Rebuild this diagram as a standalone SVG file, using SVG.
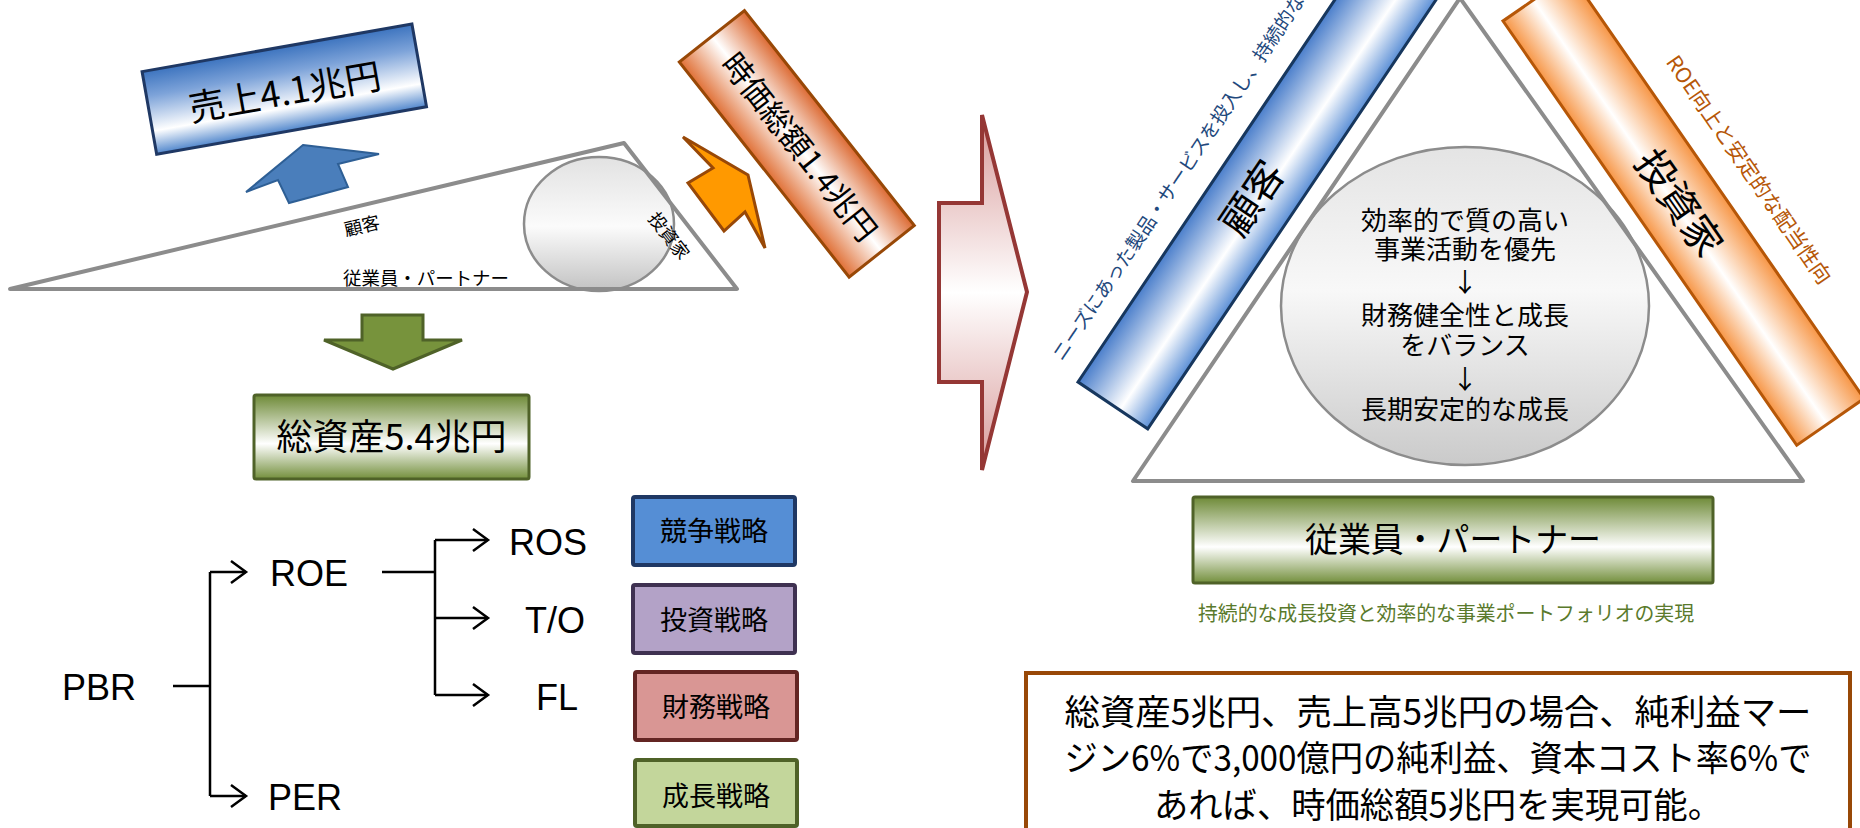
<svg xmlns="http://www.w3.org/2000/svg" width="1860" height="828" viewBox="0 0 1860 828">
<style>
.jp{font-family:"Noto Sans CJK JP","Noto Sans",sans-serif;fill:#000}
.en{font-family:"Liberation Sans",Arial,sans-serif;font-size:36px;fill:#000}
.mid{text-anchor:middle}
.gray{fill:none;stroke:#8c8c8c;stroke-width:4;stroke-linejoin:round}
.tree{fill:none;stroke:#000;stroke-width:2.5}
.arr{marker-end:url(#chev)}
.strat{stroke-width:4}
</style>
<defs>
<linearGradient id="gBlue" x1="0" y1="0" x2="0" y2="1">
<stop offset="0" stop-color="#3d74bf"/><stop offset="0.3" stop-color="#7da3d9"/><stop offset="0.72" stop-color="#ffffff"/><stop offset="1" stop-color="#5086cc"/>
</linearGradient>
<linearGradient id="gOrangeBox" x1="0" y1="0" x2="0" y2="1">
<stop offset="0" stop-color="#dc6a33"/><stop offset="0.5" stop-color="#ffffff"/><stop offset="1" stop-color="#e07036"/>
</linearGradient>
<linearGradient id="gGreen" x1="0" y1="0" x2="0" y2="1">
<stop offset="0" stop-color="#6e8a37"/><stop offset="0.58" stop-color="#ffffff"/><stop offset="1" stop-color="#738f3c"/>
</linearGradient>
<linearGradient id="gPink" x1="0" y1="0" x2="0" y2="1">
<stop offset="0" stop-color="#d89a99"/><stop offset="0.5" stop-color="#ffffff"/><stop offset="1" stop-color="#d89a99"/>
</linearGradient>
<linearGradient id="gEllL" x1="0" y1="0" x2="0" y2="1">
<stop offset="0" stop-color="#e2e2e2"/><stop offset="0.52" stop-color="#fbfbfb"/><stop offset="1" stop-color="#c2c2c2"/>
</linearGradient>
<linearGradient id="gEllR" x1="0" y1="0" x2="0" y2="1">
<stop offset="0" stop-color="#e4e4e4"/><stop offset="0.45" stop-color="#f8f8f8"/><stop offset="1" stop-color="#cacaca"/>
</linearGradient>
<linearGradient id="gBlueBar" x1="0" y1="0" x2="0" y2="1">
<stop offset="0" stop-color="#4a7ecb"/><stop offset="0.6" stop-color="#ffffff"/><stop offset="1" stop-color="#5b8fd6"/>
</linearGradient>
<linearGradient id="gOrangeBar" x1="0" y1="0" x2="0" y2="1">
<stop offset="0" stop-color="#f79646"/><stop offset="0.55" stop-color="#ffffff"/><stop offset="1" stop-color="#f79646"/>
</linearGradient>
<marker id="chev" markerUnits="userSpaceOnUse" markerWidth="24" markerHeight="28" refX="17" refY="12" orient="auto" overflow="visible">
<path d="M2,1 L17,12 L2,23" fill="none" stroke="#000" stroke-width="2.5"/>
</marker>
</defs>

<!-- left wedge -->
<g id="wedge">
<polygon points="10,289 624,143 737,289" fill="#fff"/>
<ellipse cx="599" cy="224" rx="75" ry="67" fill="url(#gEllL)" stroke="#8c8c8c" stroke-width="2.5"/>
<polygon class="gray" points="10,289 624,143 737,289"/>
<text class="jp mid" font-size="18" transform="translate(362,226) rotate(-13.4)" dy="0.36em">顧客</text>
<text class="jp" font-size="18.5" x="343" y="284.5" textLength="166" lengthAdjust="spacingAndGlyphs">従業員・パートナー</text>
<text class="jp mid" font-size="18" transform="translate(669,236) rotate(52.3)" dy="0.36em">投資家</text>
</g>

<g id="sales-arrow">
<polygon points="303,145 379,154 338,164 348,187 289,203 278,180 246,192" fill="#4a7ebb" stroke="#2e5f95" stroke-width="2"/>
</g>
<g id="sales" transform="translate(284.3,89.2) rotate(-10)">
<rect x="-137" y="-42" width="274" height="84" fill="url(#gBlue)" stroke="#1f3864" stroke-width="3"/>
<text class="jp mid" font-size="36" y="3" dy="0.36em">売上4.1兆円</text>
</g>

<g id="marketcap-arrow">
<polygon points="683,137 748,175 765,248 745,212 724,231 688,183 713,168" fill="#ff9900" stroke="#984807" stroke-width="3" stroke-linejoin="miter"/>
</g>
<g id="marketcap" transform="translate(796.8,143.8) rotate(51.7)">
<rect x="-137" y="-41.5" width="274" height="83" fill="url(#gOrangeBox)" stroke="#984807" stroke-width="3"/>
<text class="jp mid" font-size="31" x="4" y="0" dy="0.36em">時価総額1.4兆円</text>
</g>

<g id="assets-arrow">
<polygon points="362,315 423,315 423,340 462,340 393,369 324,340 362,340" fill="#77933c" stroke="#4f6228" stroke-width="3"/>
</g>
<g id="assets">
<rect x="254" y="395" width="275" height="84" rx="2" fill="url(#gGreen)" stroke="#4f6228" stroke-width="3"/>
<text class="jp mid" font-size="36" x="391.5" y="437" dy="0.36em">総資産5.4兆円</text>
</g>

<!-- tree -->
<g id="connectors">
<path class="tree" d="M173,686 H210 M210,572 V796 M382,572 H435 M435,540 V695"/>
<path class="tree arr" d="M210,572 H246"/>
<path class="tree arr" d="M210,796 H246"/>
<path class="tree arr" d="M435,540 H488"/>
<path class="tree arr" d="M435,618 H488"/>
<path class="tree arr" d="M435,695 H488"/>
</g>
<g id="pbr"><text class="en" x="62" y="700">PBR</text></g>
<g id="roe"><text class="en" x="270" y="586">ROE</text></g>
<g id="per"><text class="en" x="268" y="810">PER</text></g>
<g id="ros"><text class="en" x="509" y="555">ROS</text></g>
<g id="to"><text class="en" x="525" y="633">T/O</text></g>
<g id="fl"><text class="en" x="536" y="710">FL</text></g>

<g id="s-compete">
<rect class="strat" x="633" y="497" width="162" height="68" rx="2" fill="#558ed5" stroke="#1f3864"/>
<text class="jp mid" font-size="27" x="714" y="531" dy="0.36em">競争戦略</text>
</g>
<g id="s-invest">
<rect class="strat" x="633" y="585" width="162" height="68" rx="2" fill="#b3a2c7" stroke="#3f3151"/>
<text class="jp mid" font-size="27" x="714" y="620" dy="0.36em">投資戦略</text>
</g>
<g id="s-finance">
<rect class="strat" x="635" y="672" width="162" height="68" rx="2" fill="#d99694" stroke="#632523"/>
<text class="jp mid" font-size="27" x="716" y="707" dy="0.36em">財務戦略</text>
</g>
<g id="s-growth">
<rect class="strat" x="635" y="760" width="162" height="66" rx="2" fill="#c3d69b" stroke="#4f6228"/>
<text class="jp mid" font-size="27" x="716" y="796" dy="0.36em">成長戦略</text>
</g>

<!-- big arrow -->
<g id="big-arrow">
<polygon points="939,203 982,203 982,115 1027,292 982,470 982,382 939,382" fill="url(#gPink)" stroke="#953735" stroke-width="4"/>
</g>

<!-- right triangle -->
<g id="triangle">
<polygon points="1460,-2 1133,481 1803,481" fill="#fff"/>
<ellipse cx="1465" cy="306" rx="184" ry="159" fill="url(#gEllR)" stroke="#8c8c8c" stroke-width="2.5"/>
<polygon class="gray" points="1460,-2 1133,481 1803,481"/>
</g>
<g id="center-ellipse">
<text class="jp mid" font-size="26"><tspan x="1465" y="229.5">効率的で質の高い</tspan><tspan x="1465" y="258.5">事業活動を優先</tspan><tspan x="1465" y="291.5">↓</tspan><tspan x="1465" y="324.5">財務健全性と成長</tspan><tspan x="1465" y="354.5">をバランス</tspan><tspan x="1465" y="388.5">↓</tspan><tspan x="1465" y="418.5">長期安定的な成長</tspan></text>
</g>

<g id="customer-bar" transform="translate(1078,382) rotate(-56.1)">
<rect x="0" y="0" width="620" height="84" fill="url(#gBlueBar)" stroke="#17375e" stroke-width="3"/>
<text class="jp mid" font-size="40" x="250" y="42" dy="0.36em">顧客</text>
<text class="jp" font-size="19" x="8" y="-24" style="fill:#1f497d">ニーズにあった製品・サービスを投入し、持続的な</text>
</g>

<g id="investor-bar" transform="translate(1503,21) rotate(55.3)">
<rect x="0" y="-82" width="516" height="82" fill="url(#gOrangeBar)" stroke="#b65708" stroke-width="3"/>
<text class="jp mid" font-size="40" x="250" y="-41" dy="0.36em">投資家</text>
<text class="jp" font-size="21" x="126" y="-110" style="fill:#b65708">ROE向上と安定的な配当性向</text>
</g>

<g id="employee-box">
<rect x="1193" y="497" width="520" height="86" rx="2" fill="url(#gGreen)" stroke="#4f6228" stroke-width="3"/>
<text class="jp mid" font-size="34" x="1453" y="540" dy="0.36em" textLength="296" lengthAdjust="spacingAndGlyphs">従業員・パートナー</text>
</g>

<g id="green-caption">
<text class="jp mid" font-size="20" x="1446" y="614" dy="0.36em" textLength="496" lengthAdjust="spacingAndGlyphs" style="fill:#5a7a2c">持続的な成長投資と効率的な事業ポートフォリオの実現</text>
</g>

<g id="summary-box">
<rect x="1026" y="673" width="824" height="180" fill="#fff" stroke="#984807" stroke-width="4"/>
<text class="jp mid" font-size="35" x="1438" y="724.6" textLength="747" lengthAdjust="spacingAndGlyphs">総資産5兆円、売上高5兆円の場合、純利益マー</text>
<text class="jp mid" font-size="35" x="1438" y="770.6" textLength="747" lengthAdjust="spacingAndGlyphs">ジン6%で3,000億円の純利益、資本コスト率6%で</text>
<text class="jp mid" font-size="35" x="1438" y="817.6" textLength="568" lengthAdjust="spacingAndGlyphs">あれば、時価総額5兆円を実現可能。</text>
</g>
</svg>
